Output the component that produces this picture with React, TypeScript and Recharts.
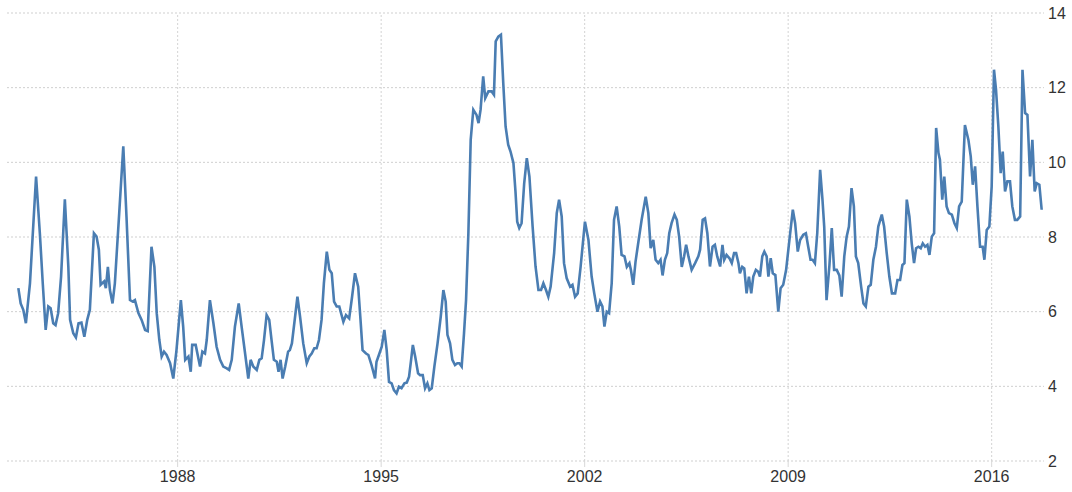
import React from "react";
import { LineChart, Line, XAxis, YAxis, CartesianGrid, ReferenceLine } from "recharts";

// Decimal-year dates of each observation
const dates: number[] = [
  1982.52, 1982.60, 1982.69, 1982.78, 1982.92, 1983.13, 1983.26, 1983.36, 1983.46, 1983.55,
  1983.63, 1983.72, 1983.80, 1983.89, 1983.99, 1984.12, 1984.24, 1984.30, 1984.41, 1984.50,
  1984.59, 1984.69, 1984.79, 1984.89, 1984.98, 1985.12, 1985.21, 1985.29, 1985.35, 1985.47,
  1985.53, 1985.60, 1985.67, 1985.76, 1985.84, 1985.99, 1986.13, 1986.24, 1986.36, 1986.45,
  1986.53, 1986.65, 1986.76, 1986.88, 1986.97, 1987.10, 1987.20, 1987.28, 1987.37, 1987.45,
  1987.53, 1987.62, 1987.74, 1987.85, 1987.96, 1988.11, 1988.19, 1988.26, 1988.37, 1988.45,
  1988.50, 1988.62, 1988.70, 1988.77, 1988.85, 1988.94, 1989.00, 1989.11, 1989.23, 1989.34,
  1989.46, 1989.57, 1989.69, 1989.77, 1989.86, 1989.97, 1990.10, 1990.20, 1990.32, 1990.43,
  1990.51, 1990.60, 1990.72, 1990.81, 1990.89, 1990.97, 1991.06, 1991.15, 1991.23, 1991.31,
  1991.41, 1991.47, 1991.54, 1991.61, 1991.70, 1991.80, 1991.86, 1991.93, 1992.04, 1992.12,
  1992.21, 1992.32, 1992.44, 1992.53, 1992.61, 1992.70, 1992.78, 1992.86, 1992.95, 1993.03,
  1993.13, 1993.22, 1993.30, 1993.38, 1993.47, 1993.56, 1993.70, 1993.79, 1993.90, 1994.00,
  1994.10, 1994.21, 1994.29, 1994.36, 1994.48, 1994.56, 1994.67, 1994.79, 1994.84, 1994.94,
  1995.02, 1995.11, 1995.19, 1995.27, 1995.36, 1995.44, 1995.53, 1995.61, 1995.70, 1995.80,
  1995.88, 1995.96, 1996.03, 1996.09, 1996.17, 1996.27, 1996.34, 1996.43, 1996.51, 1996.59,
  1996.66, 1996.74, 1996.83, 1996.94, 1997.05, 1997.14, 1997.22, 1997.28, 1997.37, 1997.45,
  1997.54, 1997.62, 1997.69, 1997.77, 1997.85, 1997.92, 1998.00, 1998.08, 1998.17, 1998.28,
  1998.35, 1998.42, 1998.51, 1998.58, 1998.69, 1998.80, 1998.88, 1998.94, 1999.03, 1999.12,
  1999.20, 1999.28, 1999.37, 1999.45, 1999.55, 1999.62, 1999.68, 1999.75, 1999.83, 1999.92,
  2000.01, 2000.10, 2000.21, 2000.31, 2000.41, 2000.50, 2000.58, 2000.67, 2000.75, 2000.83,
  2000.95, 2001.04, 2001.12, 2001.21, 2001.29, 2001.38, 2001.50, 2001.58, 2001.67, 2001.76,
  2001.86, 2002.01, 2002.13, 2002.24, 2002.33, 2002.44, 2002.53, 2002.61, 2002.68, 2002.76,
  2002.84, 2002.93, 2003.01, 2003.10, 2003.19, 2003.27, 2003.37, 2003.45, 2003.54, 2003.59,
  2003.67, 2003.75, 2003.85, 2003.96, 2004.10, 2004.19, 2004.27, 2004.36, 2004.44, 2004.53,
  2004.61, 2004.68, 2004.76, 2004.84, 2004.91, 2004.99, 2005.09, 2005.17, 2005.25, 2005.34,
  2005.42, 2005.49, 2005.57, 2005.68, 2005.80, 2005.91, 2005.97, 2006.06, 2006.14, 2006.22,
  2006.31, 2006.40, 2006.48, 2006.56, 2006.66, 2006.74, 2006.80, 2006.88, 2006.98, 2007.06,
  2007.14, 2007.21, 2007.29, 2007.34, 2007.42, 2007.49, 2007.57, 2007.65, 2007.73, 2007.80,
  2007.89, 2007.97, 2008.03, 2008.11, 2008.18, 2008.26, 2008.32, 2008.40, 2008.47, 2008.56,
  2008.66, 2008.74, 2008.83, 2008.93, 2009.03, 2009.16, 2009.24, 2009.33, 2009.41, 2009.52,
  2009.61, 2009.69, 2009.77, 2009.84, 2009.92, 2010.00, 2010.10, 2010.18, 2010.24, 2010.32,
  2010.42, 2010.50, 2010.58, 2010.67, 2010.76, 2010.84, 2010.93, 2011.01, 2011.09, 2011.18,
  2011.26, 2011.33, 2011.41, 2011.51, 2011.59, 2011.67, 2011.76, 2011.84, 2011.93, 2012.02,
  2012.10, 2012.22, 2012.30, 2012.39, 2012.48, 2012.57, 2012.68, 2012.76, 2012.85, 2012.93,
  2013.00, 2013.08, 2013.17, 2013.25, 2013.33, 2013.40, 2013.48, 2013.56, 2013.63, 2013.71,
  2013.79, 2013.86, 2013.94, 2014.02, 2014.09, 2014.17, 2014.22, 2014.30, 2014.37, 2014.45,
  2014.53, 2014.63, 2014.72, 2014.80, 2014.88, 2014.97, 2015.08, 2015.20, 2015.28, 2015.35,
  2015.43, 2015.51, 2015.60, 2015.69, 2015.75, 2015.83, 2015.92, 2016.00, 2016.08, 2016.15,
  2016.23, 2016.31, 2016.38, 2016.46, 2016.54, 2016.63, 2016.71, 2016.80, 2016.88, 2016.98,
  2017.06, 2017.15, 2017.23, 2017.32, 2017.40, 2017.48, 2017.55, 2017.64, 2017.72,
];

// Observed values (%)
const rates: number[] = [
  6.63, 6.22, 6.05, 5.69, 6.76, 9.62, 8.10, 6.76, 5.51, 6.14,
  6.09, 5.69, 5.64, 5.96, 6.94, 9.01, 7.20, 5.78, 5.42, 5.31,
  5.69, 5.71, 5.33, 5.78, 6.05, 8.10, 8.01, 7.66, 6.72, 6.81,
  6.63, 7.20, 6.58, 6.22, 6.76, 8.64, 10.43, 8.55, 6.31, 6.27,
  6.31, 5.96, 5.78, 5.51, 5.48, 7.74, 7.20, 5.96, 5.24, 4.80,
  4.93, 4.84, 4.62, 4.21, 4.97, 6.31, 5.60, 4.71, 4.80, 4.39,
  5.11, 5.11, 4.80, 4.53, 4.93, 4.88, 5.24, 6.31, 5.69, 5.06,
  4.71, 4.53, 4.48, 4.44, 4.71, 5.60, 6.22, 5.60, 4.88, 4.21,
  4.71, 4.53, 4.44, 4.71, 4.75, 5.24, 5.91, 5.78, 5.24, 4.71,
  4.66, 4.39, 4.71, 4.21, 4.53, 4.93, 4.97, 5.15, 5.87, 6.40,
  5.87, 5.15, 4.62, 4.80, 4.88, 5.02, 5.02, 5.24, 5.78, 6.76,
  7.61, 7.12, 7.03, 6.27, 6.14, 6.14, 5.73, 5.91, 5.82, 6.40,
  7.03, 6.67, 5.78, 4.97, 4.88, 4.84, 4.57, 4.21, 4.66, 4.88,
  5.06, 5.51, 4.97, 4.12, 4.08, 3.90, 3.81, 3.99, 3.95, 4.08,
  4.10, 4.26, 4.71, 5.11, 4.80, 4.35, 4.30, 4.30, 3.95, 4.08,
  3.90, 3.95, 4.53, 5.15, 5.87, 6.58, 6.27, 5.38, 5.15, 4.71,
  4.57, 4.62, 4.62, 4.53, 5.42, 6.31, 8.10, 10.60, 11.41, 11.27,
  11.05, 11.41, 12.30, 11.72, 11.90, 11.90, 11.81, 13.24, 13.37, 13.42,
  12.12, 10.96, 10.47, 10.29, 9.98, 9.22, 8.41, 8.24, 8.37, 9.44,
  10.11, 9.62, 8.28, 7.21, 6.58, 6.58, 6.76, 6.58, 6.40, 6.67,
  7.57, 8.64, 9.00, 8.55, 7.30, 6.90, 6.67, 6.72, 6.40, 6.49,
  7.20, 8.41, 7.92, 6.94, 6.49, 6.00, 6.27, 6.14, 5.60, 6.00,
  5.96, 6.76, 8.46, 8.82, 8.28, 7.52, 7.48, 7.20, 7.30, 7.12,
  6.72, 7.34, 7.88, 8.46, 9.08, 8.64, 7.70, 7.92, 7.39, 7.30,
  7.39, 6.97, 7.39, 7.57, 8.10, 8.37, 8.60, 8.46, 8.01, 7.20,
  7.48, 7.79, 7.48, 7.12, 7.30, 7.48, 7.66, 8.46, 8.50, 8.10,
  7.21, 7.74, 7.79, 7.48, 7.21, 7.79, 7.39, 7.52, 7.43, 7.30,
  7.57, 7.57, 7.30, 7.03, 7.20, 7.16, 6.49, 6.94, 6.49, 6.94,
  7.12, 7.07, 6.94, 7.48, 7.61, 7.48, 6.94, 7.43, 7.03, 6.98,
  6.00, 6.63, 6.72, 7.12, 7.83, 8.73, 8.37, 7.61, 7.92, 8.06,
  8.10, 7.74, 7.39, 7.39, 7.30, 8.10, 9.80, 9.00, 8.28, 6.31,
  7.25, 8.24, 7.12, 7.12, 6.97, 6.40, 7.48, 8.00, 8.28, 9.31,
  8.82, 7.48, 7.30, 6.67, 6.22, 6.14, 6.67, 6.72, 7.39, 7.74,
  8.28, 8.60, 8.28, 7.57, 6.94, 6.49, 6.49, 6.85, 6.85, 7.25,
  7.30, 9.00, 8.55, 7.83, 7.30, 7.70, 7.74, 7.70, 7.83, 7.74,
  7.79, 7.52, 8.01, 8.10, 10.92, 10.25, 10.07, 9.00, 9.62, 8.82,
  8.64, 8.60, 8.37, 8.24, 8.82, 8.95, 11.00, 10.60, 10.16, 9.40,
  9.89, 8.82, 7.74, 7.74, 7.39, 8.19, 8.28, 9.35, 12.48, 11.94,
  10.96, 9.71, 10.29, 9.22, 9.49, 9.49, 8.82, 8.46, 8.46, 8.55,
  12.48, 11.32, 11.27, 9.62, 10.60, 9.22, 9.44, 9.40, 8.73,
];

const yearTicks: number[] = [1988, 1995, 2002, 2009, 2016];
const valueTicks: number[] = [2, 4, 6, 8, 10, 12, 14];

const data = dates.map((t, i) => ({ t, v: rates[i] }));

const tickStyle = { fontSize: 16, fill: "#333", fontFamily: "Liberation Sans, Arial, sans-serif" };

export default function App() {
  return (
    <div style={{ position: "absolute", left: 0, top: 0, width: 1072, height: 492, background: "#fff" }}>
      <LineChart width={1072} height={492} data={data} margin={{ top: 13, right: 0, bottom: 0, left: 7 }}>
        <CartesianGrid stroke="#cfcfcf" strokeDasharray="2 2" vertical={false} />
        {yearTicks.map((y) => (
          <ReferenceLine key={y} x={y} stroke="#d4d4d4" strokeDasharray="2 2" />
        ))}
        <XAxis
          dataKey="t"
          type="number"
          domain={[1982.13, 2017.8]}
          allowDataOverflow
          ticks={yearTicks}
          axisLine={false}
          tickLine={{ stroke: "#d8d8d8" }}
          tickSize={6}
          tickMargin={4}
          height={31}
          tick={tickStyle}
        />
        <YAxis
          orientation="right"
          domain={[2, 14]}
          ticks={valueTicks}
          axisLine={false}
          tickLine={false}
          tickSize={0}
          tickMargin={4}
          width={28}
          tick={{ ...tickStyle, textAnchor: "start" }}
        />
        <Line
          type="linear"
          dataKey="v"
          stroke="#4a7db2"
          strokeWidth={2.6}
          dot={false}
          isAnimationActive={false}
        />
      </LineChart>
    </div>
  );
}
